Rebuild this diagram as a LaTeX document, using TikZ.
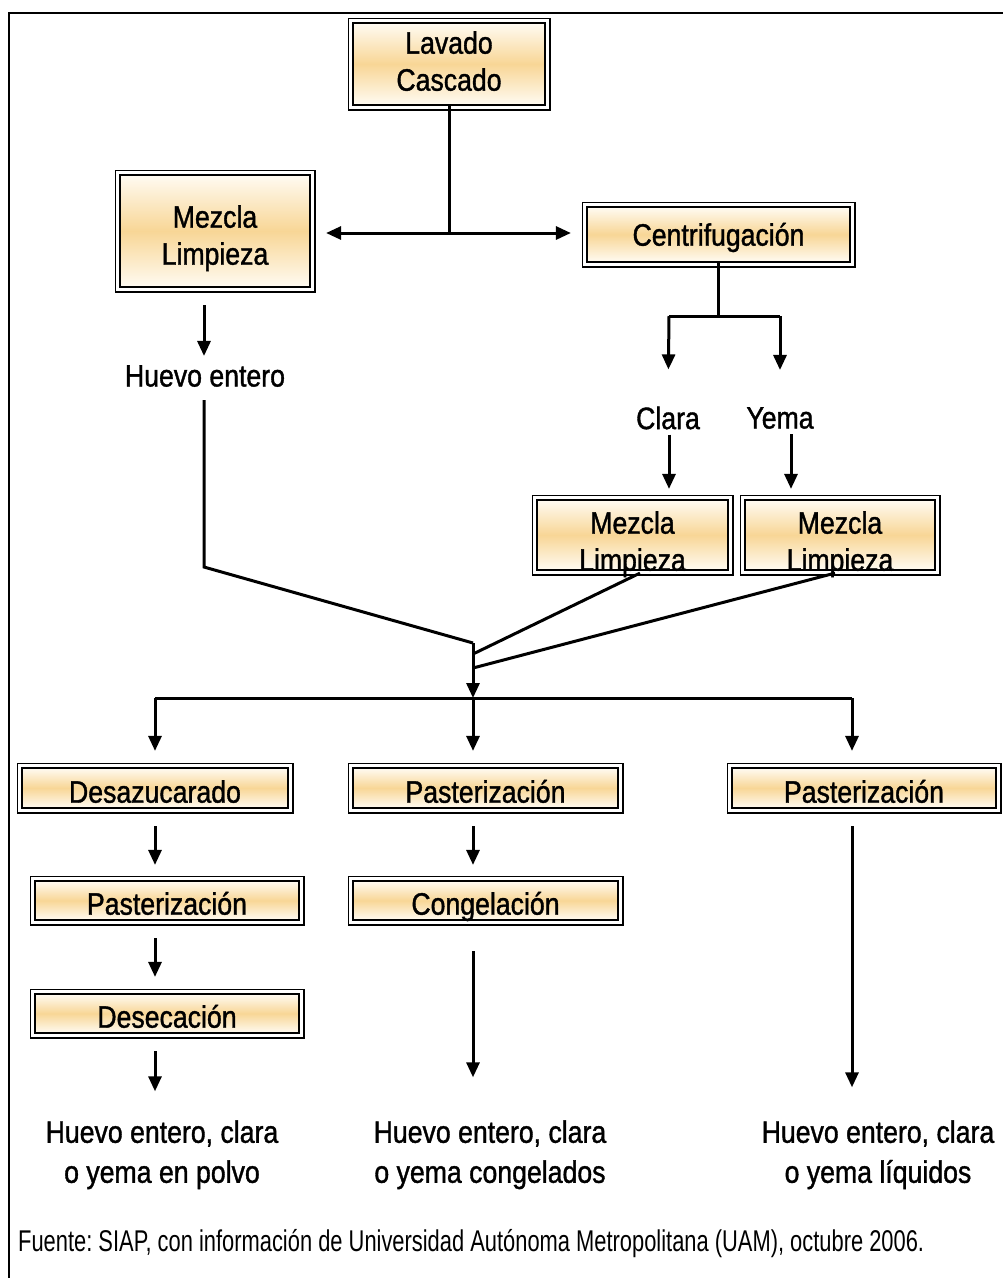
\documentclass[tikz,border=0pt]{standalone}
\usepackage{fontspec}
\setmainfont{Liberation Sans}
\newfontfamily\bfnt{Liberation Sans}[FakeStretch=0.86,FakeBold=1.2]
\newfontfamily\ffnt{Liberation Sans}
\usetikzlibrary{arrows.meta,calc}
\definecolor{boxor}{RGB}{248,214,150}
\definecolor{boxlt}{RGB}{255,251,242}
\newsavebox\footbox
\newcommand\bt[2][-13.5pt]{\raisebox{#1}[0pt][0pt]{\begin{tabular}{@{}c@{}}#2\end{tabular}}}
\frenchspacing
\begin{document}
\sbox\footbox{\ffnt\fontsize{30}{34}\selectfont Fuente: SIAP, con información de Universidad Autónoma Metropolitana (UAM), octubre 2006.}%
\begin{tikzpicture}[x=1pt,y=-1pt,
  pbox/.style={line width=2.2pt, draw=black, top color=boxlt, bottom color=boxlt, middle color=boxor,
     preaction={draw=black, line width=11pt}, preaction={draw=white, line width=8pt},
     inner sep=0pt, font=\bfnt\fontsize{31}{37}\selectfont, align=center},
  lbl/.style={inner sep=0pt, font=\bfnt\fontsize{31}{37}\selectfont, align=center},
  blbl/.style={inner sep=0pt, font=\bfnt\fontsize{31}{40}\selectfont, align=center},
  ln/.style={line width=3pt},
  arr/.style={line width=3pt, -{Triangle[length=15pt,width=13pt]}}
]
\useasboundingbox (0,0) rectangle (1003,1278);
\draw[line width=2pt] (1003,13) -- (9,13) -- (9,1278);

% boxes
\node[pbox, minimum width=192pt, minimum height=82pt] (lavado) at (449,64) {\bt[-7pt]{Lavado\\Cascado}};
\node[pbox, minimum width=190pt, minimum height=112pt] (mezcla1) at (215,231) {\bt[-14pt]{Mezcla\\Limpieza}};
\node[pbox, minimum width=263pt, minimum height=55pt] (centrif) at (718.5,234.5) {\bt[-10pt]{Centrifugación}};
\node[pbox, minimum width=191pt, minimum height=70pt] (mezcla2) at (632.5,535) {\bt[-16pt]{Mezcla\\Limpieza}};
\node[pbox, minimum width=190pt, minimum height=70pt] (mezcla3) at (840,535) {\bt[-16pt]{Mezcla\\Limpieza}};
\node[pbox, minimum width=266pt, minimum height=40pt] (desaz) at (155,788) {\bt{Desazucarado}};
\node[pbox, minimum width=265pt, minimum height=40pt] (past1) at (485.5,788) {\bt{Pasterización}};
\node[pbox, minimum width=264pt, minimum height=40pt] (past2) at (864,788) {\bt{Pasterización}};
\node[pbox, minimum width=264pt, minimum height=39pt] (past3) at (167,900.5) {\bt[-13pt]{Pasterización}};
\node[pbox, minimum width=265pt, minimum height=39pt] (congel) at (485.5,900.5) {\bt[-13pt]{Congelación}};
\node[pbox, minimum width=264pt, minimum height=39pt] (desec) at (167,1013.5) {\bt[-13pt]{Desecación}};

% labels
\node[lbl] (he) at (205,376) {Huevo entero};
\node[lbl] (clara) at (668,418) {Clara};
\node[lbl] (yema) at (780,418) {Yema};
\node[blbl] (lb1) at (162,1152) {\bt[-9pt]{Huevo entero, clara\\o yema en polvo}};
\node[blbl] (lb2) at (490,1152) {\bt[-9pt]{Huevo entero, clara\\o yema congelados}};
\node[blbl] (lb3) at (878,1152) {\bt[-9pt]{Huevo entero, clara\\o yema líquidos}};

\node[inner sep=0pt, anchor=west] (fuente) at (18,1244) {\scalebox{\fpeval{906/\wd\footbox}}[1]{\usebox\footbox}};

% coordinates
\coordinate (j1) at (449,233);
\coordinate (m1) at (473,643);
\coordinate (m2) at (473,654);
\coordinate (m3) at (473,668);
\coordinate (hc) at (473,698);
\coordinate (hl) at (155,698);
\coordinate (hr) at (852,698);
\coordinate (cj) at (718.5,316);
\coordinate (cl) at (669,316);
\coordinate (cr) at (780,316);

% connectors
\draw[ln] (lavado.south) -- (j1);
\draw[arr, shorten >=15pt] (j1) -- (j1 -| mezcla1.east);
\draw[arr, shorten >=15pt] (j1) -- (j1 -| centrif.west);

\draw[arr] ($(mezcla1.south)+(-11,17)$) -- ($(he.north)+(-1,-9)$);
\draw[ln] ($(he.south)+(-1,13)$) -- ++(0,167) -- (m1);
\draw[arr] (m1) -- (hc);
\draw[ln] ($(mezcla2.south)+(7.5,2)$) -- (m2);
\draw[ln] ($(mezcla3.south)+(-5,2)$) -- (m3);

\draw[ln] (centrif.south) -- (cj);
\draw[ln] (cl) -- (cr);
\draw[arr, shorten >=37pt] (cl) -- (clara.north);
\draw[arr, shorten >=37pt] (cr) -- (yema.north);
\draw[arr, shorten >=10pt] ($(clara.south)+(1,5)$) -- ($(clara.south |- mezcla2.north)+(1,0)$);
\draw[arr, shorten >=10pt] ($(yema.south)+(11,5)$) -- ($(yema.south |- mezcla3.north)+(11,0)$);

\draw[ln] (hl) -- (hr);
\draw[arr, shorten >=16pt] (hl) -- (hl |- desaz.north);
\draw[arr, shorten >=16pt] (hc) -- (hc |- past1.north);
\draw[arr, shorten >=16pt] (hr) -- (hr |- past2.north);

\draw[arr] ($(desaz.south)+(0,17)$) -- ($(past3.north)+(-12,-15)$);
\draw[arr] ($(past3.south)+(-12,17)$) -- ($(desec.north)+(-12,-16)$);
\draw[arr] ($(desec.south)+(-12,17)$) -- ($(lb1.north)+(-7,-60)$);

\draw[arr] ($(past1.south)+(-12.5,17)$) -- ($(congel.north)+(-12.5,-15)$);
\draw[arr] ($(congel.south)+(-12.5,30)$) -- ($(lb2.north)+(-17,-74)$);

\draw[arr] ($(past2.south)+(-12,17)$) -- ($(lb3.north)+(-26,-64)$);
\end{tikzpicture}
\end{document}
